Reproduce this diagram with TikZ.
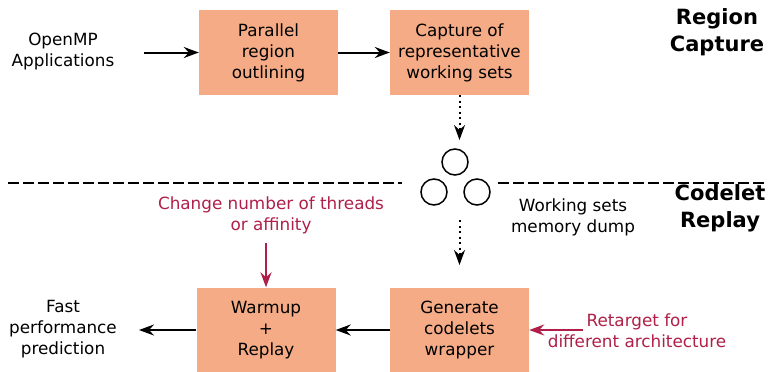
\documentclass[tikz,border=0pt]{standalone}
\usepackage{fontspec}
\setmainfont{DejaVu Sans}
\usetikzlibrary{arrows.meta}
\definecolor{boxfill}{HTML}{F5AC86}
\definecolor{tweak}{HTML}{AF1F47}
\tikzset{
  stagebox/.style={fill=boxfill, minimum width=139pt, minimum height=85pt,
    inner sep=0pt, align=center, font=\fontsize{16.8}{21}\selectfont},
  plain/.style={inner sep=0pt, align=center, font=\fontsize{16.8}{21}\selectfont},
  note/.style={plain, text=tweak},
  phase/.style={inner sep=0pt, align=center, font=\fontsize{21}{26.5}\selectfont\bfseries},
  flow/.style={line width=2pt, -{Stealth[length=15pt,width=11pt,inset=5pt]}},
  tweakflow/.style={flow, draw=tweak, -{Stealth[length=15pt,width=11pt,inset=5pt,fill=tweak]}},
  dumpflow/.style={flow, dash pattern=on 2pt off 3.5pt},
  divider/.style={line width=2pt, dash pattern=on 11pt off 4pt},
  blob/.style={circle, draw, line width=1.5pt, minimum size=26pt, inner sep=0pt}
}
\begin{document}
\begin{tikzpicture}[x=1pt,y=-1pt]
\useasboundingbox (0,0) rectangle (771,372);

% capture stages
\node[stagebox] (outline) at (268.5,52.5) {Parallel\\region\\outlining};
\node[stagebox] (capture) at (459.5,52.5) {Capture of\\representative\\working sets};
\node[plain] (apps) at (63,52) {OpenMP\\Applications};
\node[phase] (rc) at (717,32) {Region\\Capture};

\coordinate (appsout) at (144,52.5);
\draw[flow] (appsout) -- (outline.west);
\draw[flow] (outline) -- (capture);

% memory dump
\node[blob] (d1) at (455,162) {};
\node[blob] (d2) at (434,192) {};
\node[blob] (d3) at (477,192) {};
\node[plain] (dumplabel) at (573,217.5) {Working sets\\memory dump};
\coordinate (dumpin) at (459.5,140);
\coordinate (dumpout) at (459.5,220);
\coordinate (genin) at (459.5,265);
\draw[dumpflow] (capture.south) -- (dumpin);
\draw[dumpflow] (dumpout) -- (genin);

% phase divider
\coordinate (l0) at (8,183);
\coordinate (l1) at (402,183);
\coordinate (r0) at (498,183);
\coordinate (r1) at (765,183);
\draw[divider] (l0) -- (l1);
\draw[divider] (r0) -- (r1);
\node[phase] (cr) at (720,208.5) {Codelet\\Replay};

% replay stages
\node[stagebox] (replay) at (266,330) {Warmup\\+\\Replay};
\node[stagebox] (gen) at (459.5,330) {Generate\\codelets\\wrapper};
\node[plain] (fast) at (63,329) {Fast\\performance\\prediction};
\coordinate (fastin) at (139,330);
\draw[flow] (gen) -- (replay);
\draw[flow] (replay.west) -- (fastin);

% knobs
\node[note] (threads) at (271,215.5) {Change number of threads\\or affinity};
\node[note] (retarget) at (637,331) {Retarget for\\different architecture};
\coordinate (threadsout) at (266,243);
\coordinate (retargetout) at (583,330);
\draw[tweakflow] (threadsout) -- (replay.north);
\draw[tweakflow] (retargetout) -- (gen.east);
\end{tikzpicture}
\end{document}
